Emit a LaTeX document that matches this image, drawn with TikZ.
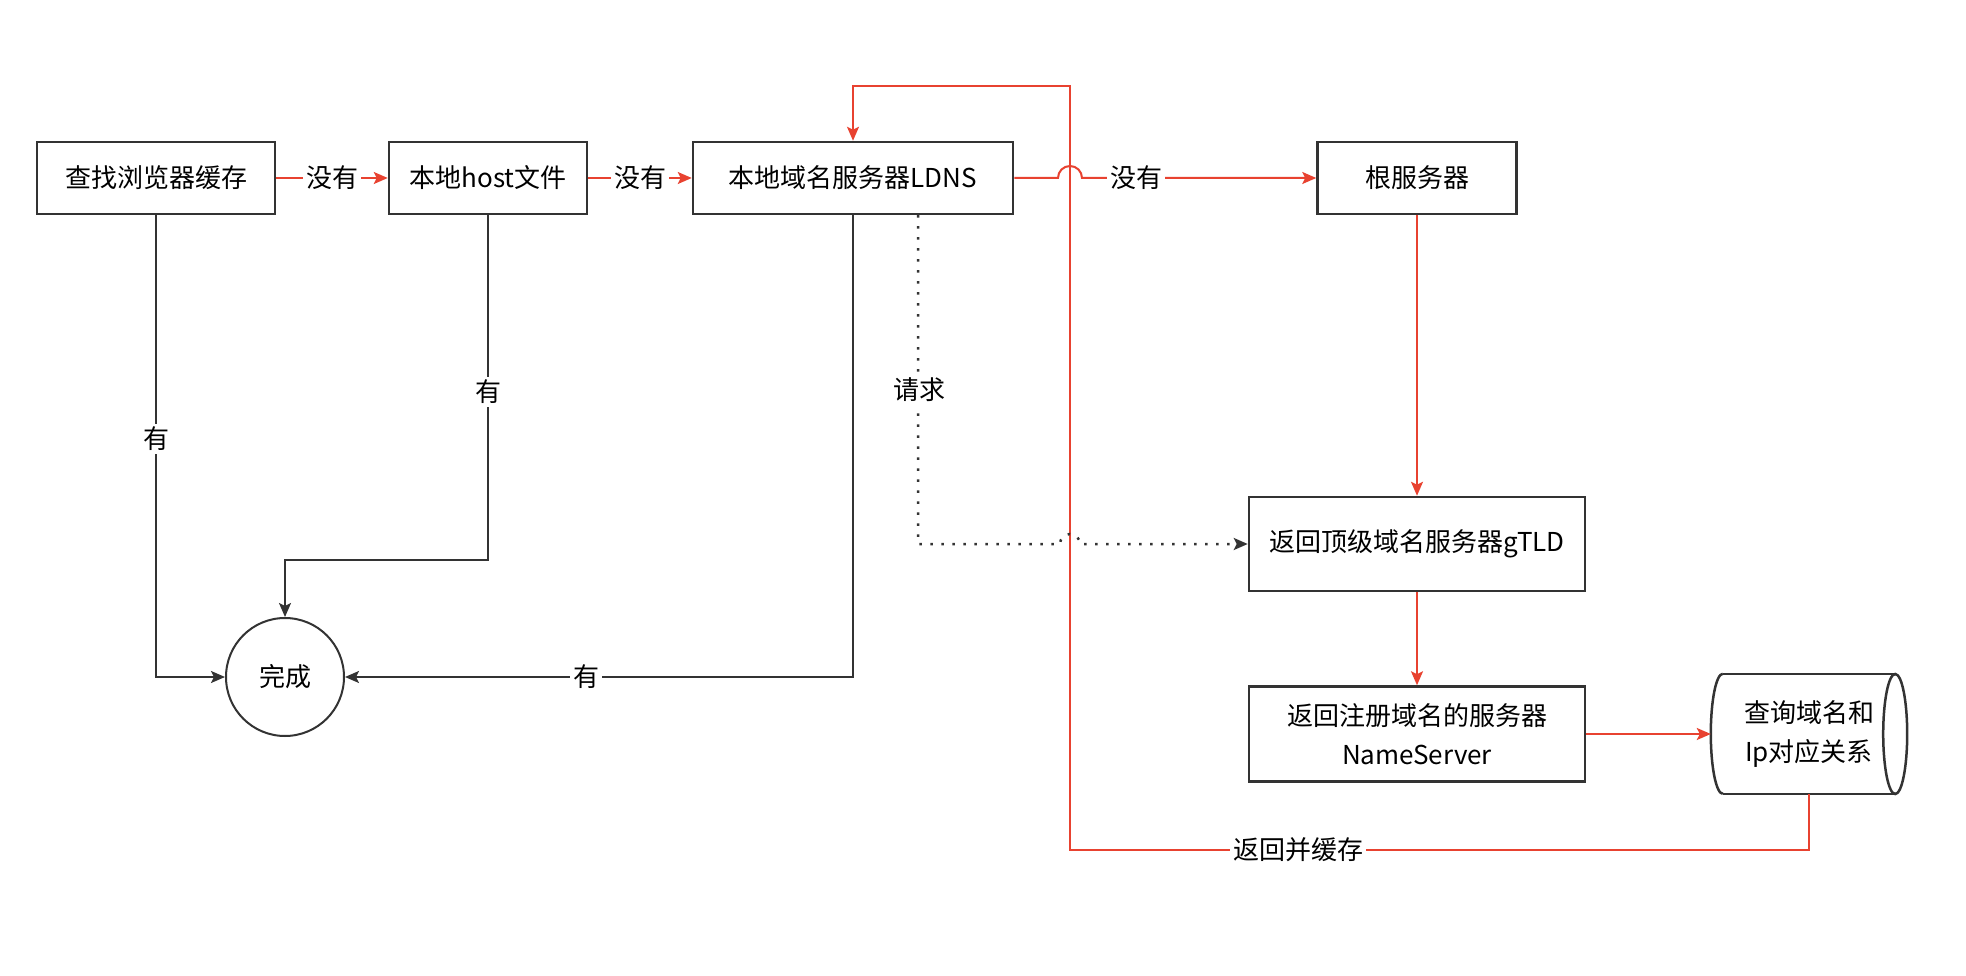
\documentclass[tikz,border=0pt]{standalone}
\usepackage{fontspec}
\setmainfont{Noto Sans CJK SC}
\usetikzlibrary{arrows.meta,calc}
\definecolor{myred}{RGB}{232,66,48}
\definecolor{dark}{RGB}{51,51,51}
\begin{document}
\begin{tikzpicture}[x=1pt,y=1pt,
  every node/.style={font=\fontsize{26}{39}\selectfont, inner sep=0pt, text=black},
  box/.style={draw=dark, line width=2.5pt, fill=white, align=center},
  lbl/.style={fill=white, inner sep=3pt},
  tip/.style={-{Stealth[length=14pt,width=12pt,inset=3pt]}},
  rline/.style={draw=myred, line width=2pt},
  bline/.style={draw=dark, line width=2pt},
  dline/.style={draw=dark, line width=2.5pt, dash pattern=on 2.5pt off 8.5pt}]
\useasboundingbox (0,0) rectangle (1966,-976);
\fill[white] (0,0) rectangle (1966,-976);

\node[box, minimum width=238, minimum height=72] (b1) at (156,-178) {查找浏览器缓存};
\node[box, minimum width=198, minimum height=72] (b2) at (488,-178) {本地host文件};
\node[box, minimum width=320, minimum height=72] (b3) at (853,-178) {本地域名服务器LDNS};
\node[box, minimum width=199, minimum height=72] (b4) at (1417,-178) {根服务器};
\node[box, minimum width=336, minimum height=94] (b5) at (1417,-544) {返回顶级域名服务器gTLD};
\node[box, minimum width=336, minimum height=95] (b6) at (1417,-734) {返回注册域名的服务器\\NameServer};
\node[circle, draw=dark, line width=2pt, minimum size=118] (done) at (285,-677) {完成};
\node[minimum width=196, minimum height=120, align=center] (cyl) at (1809,-734) {查询域名和\\Ip对应关系};

% cylinder outline
\draw[dark, line width=2.5pt] ([xshift=12]cyl.north west) -- ([xshift=-12]cyl.north east);
\draw[dark, line width=2.5pt] ([xshift=12]cyl.south west) -- ([xshift=-12]cyl.south east);
\draw[dark, line width=2.5pt] ([xshift=-12]cyl.east) ellipse [x radius=12, y radius=60];
\draw[dark, line width=2.5pt] ([xshift=12]cyl.north west) arc[start angle=90, end angle=270, x radius=12, y radius=60];

\coordinate (lpB) at (1070,-850);
\coordinate (lpT) at (1070,-86);
\coordinate (k2) at (0,-560);

% red flow
\draw[rline, tip] (b1) -- (b2) node[lbl, midway] (l1) {没有};
\draw[rline, tip] (b2) -- (b3) node[lbl, midway] (l2) {没有};
\draw[rline, tip] (b3.east) -- ([xshift=-12]lpT |- b3.east) arc[start angle=180, end angle=0, radius=12] -- (b4.west);
\node[lbl] (l3) at (1136,-178) {没有};
\draw[rline, tip] (b4) -- (b5);
\draw[rline, tip] (b5) -- (b6);
\draw[rline, tip] (b6.east) -- (b6.east -| cyl.west);
\draw[rline, tip] (cyl.south) |- (lpB) -- (lpT) -| (b3.north);
\node[lbl] (l4) at (1298,-850) {返回并缓存};

% black flow
\draw[bline, tip] (b1.south) |- (done.west);
\node[lbl] (l5) at (156,-439) {有};
\draw[bline, tip] (b2.south) -- (b2.south |- k2) -| (done.north);
\node[lbl] (l6) at (488,-392) {有};
\draw[bline, tip] (b3.south) |- (done.east);
\node[lbl] (l7) at (586,-677) {有};

% dotted request
\draw[dline, tip] ([xshift=65]b3.south) |- ([xshift=-10]lpT |- b5.west) arc[start angle=180, end angle=0, radius=10] -- (b5.west);
\node[lbl] (l8) at (919,-390) {请求};
\end{tikzpicture}
\end{document}
